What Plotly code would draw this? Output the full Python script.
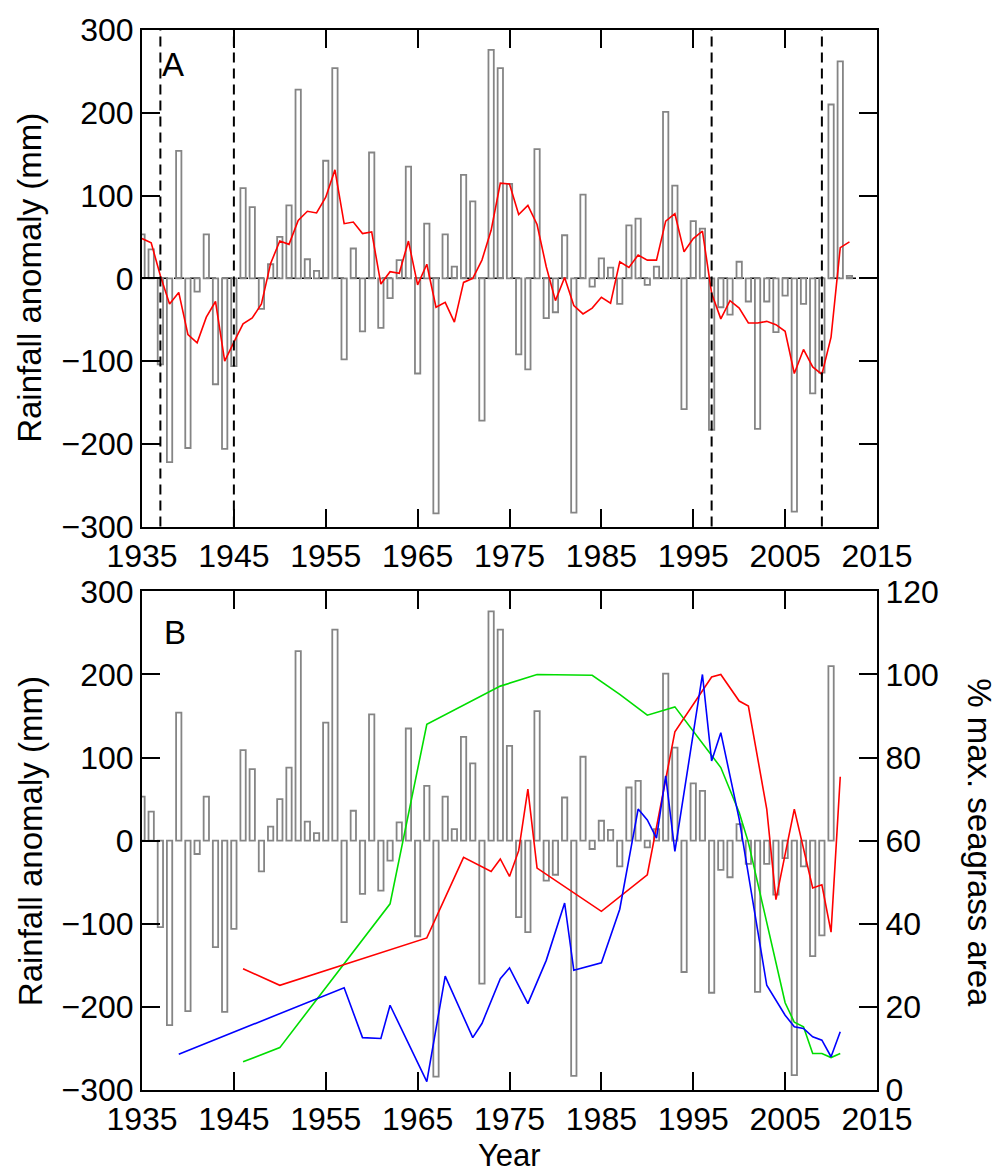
import plotly.graph_objects as go

# ---------------- data ----------------
years = list(range(1935, 2013))
rain_anom = [53, 35, -104, -222, 154, -205, -16, 53, -128, -206,
             -106, 109, 86, -37, 17, 50, 88, 228, 23, 9,
             142, 254, -98, 36, -64, 152, -60, -24, 22, 135,
             -115, 66, -284, 53, 14, 125, 93, -172, 276, 254,
             114, -92, -110, 156, -48, -41, 52, -283, 101, -10,
             24, 13, -31, 64, 72, -8, 14, 201, 112, -158,
             69, 60, -183, -35, -44, 20, -28, -182, -28, -65,
             -21, -282, -31, -139, -114, 210, 262, 3]
rain_ma = [48, 43, 3, -31, -17, -68, -78, -47, -28, -100,
           -77, -55, -48, -31, 18, 45, 41, 70, 81, 79,
           98, 131, 66, 68, 54, 56, -7, 8, 6, 45,
           -8, 17, -35, -29, -53, -5, 0, 22, 58, 115,
           114, 77, 88, 65, 14, -27, 1, -33, -43, -36,
           -23, -30, 20, 13, 28, 22, 22, 69, 78, 32,
           48, 57, -18, -49, -27, -36, -54, -54, -52, -56,
           -64, -115, -86, -107, -116, -71, 37, 44]
drought_years = [1937, 1945, 1997, 2009]

# Panel B: rainfall bars to 2010
years_b = list(range(1935, 2011))
rain_b = rain_anom[:len(years_b)]

red_years = [1946, 1950, 1966, 1970, 1973, 1974, 1975, 1976, 1977, 1978, 1985, 1990,
             1993, 1997, 1998, 2000, 2001, 2003, 2004, 2006, 2008, 2009, 2010, 2011]
red_vals = [29.2, 25.2, 36.6, 56, 52.6, 55.6, 51.4, 57.6, 72.4, 53.4, 43, 51.8,
            86.2, 99.4, 100, 93.6, 92.4, 67.6, 45.8, 67.6, 48.6, 49.4, 38, 75.4]

green_years = [1946, 1950, 1962, 1966, 1974, 1978, 1984, 1987, 1990, 1993, 1998,
               2000, 2001, 2005, 2006, 2007, 2008, 2009, 2010, 2011]
green_vals = [6.8, 10.2, 44.8, 88, 97.2, 100, 99.8, 95.2, 90.2, 92.2, 77.6,
              66.8, 59.6, 21.0, 16.3, 15.2, 8.8, 8.8, 7.8, 8.8]

blue_years = [1939, 1957, 1959, 1961, 1962, 1966, 1968, 1971, 1972, 1974, 1975, 1977,
              1979, 1981, 1982, 1985, 1987, 1989, 1990, 1991, 1992, 1993, 1996, 1997,
              1998, 2000, 2003, 2005, 2006, 2007, 2008, 2009, 2010, 2011]
blue_vals = [8.6, 24.6, 12.6, 12.4, 20.4, 2, 27.4, 12.6, 16, 26.8, 29.4, 20.8,
             31.2, 45, 28.8, 30.6, 43.5, 67.6, 65, 60.6, 75.6, 57.4, 100, 79.2,
             86, 65.2, 25.2, 18, 15.2, 14.8, 12.8, 12, 8, 14]

x_ticks = list(range(1935, 2016, 10))
y_ticks = list(range(-300, 301, 100))
y2_ticks = list(range(0, 121, 20))

# ---------------- figure ----------------
FONT = "Liberation Sans, Arial, sans-serif"
BAR_LINE = "#858585"

fig = go.Figure()

# Panel A
fig.add_trace(go.Bar(x=years, y=rain_anom, width=0.58,
                     marker=dict(color="rgba(255,255,255,0)", line=dict(color=BAR_LINE, width=1.8)),
                     xaxis="x", yaxis="y", showlegend=False))
fig.add_trace(go.Scatter(x=years, y=rain_ma, mode="lines",
                         line=dict(color="#ff0000", width=1.6),
                         xaxis="x", yaxis="y", showlegend=False))

# Panel B
fig.add_trace(go.Bar(x=years_b, y=rain_b, width=0.58,
                     marker=dict(color="rgba(255,255,255,0)", line=dict(color=BAR_LINE, width=1.8)),
                     xaxis="x2", yaxis="y2", showlegend=False))
fig.add_trace(go.Scatter(x=green_years, y=green_vals, mode="lines",
                         line=dict(color="#00dd00", width=1.6),
                         xaxis="x2", yaxis="y3", showlegend=False))
fig.add_trace(go.Scatter(x=red_years, y=red_vals, mode="lines",
                         line=dict(color="#ff0000", width=1.6),
                         xaxis="x2", yaxis="y3", showlegend=False))
fig.add_trace(go.Scatter(x=blue_years, y=blue_vals, mode="lines",
                         line=dict(color="#0000ff", width=1.6),
                         xaxis="x2", yaxis="y3", showlegend=False))

shapes = []
for yr in drought_years:
    shapes.append(dict(type="line", xref="x", yref="y domain", x0=yr, x1=yr, y0=0, y1=1,
                       line=dict(color="black", width=2, dash="10px,6px"), layer="above"))
shapes.append(dict(type="line", xref="x domain", yref="y", x0=0, x1=1, y0=0, y1=0,
                   line=dict(color="black", width=1.5, dash="10px,6px"), layer="below"))

axis_common = dict(showgrid=False, zeroline=False, showline=True, linecolor="black", linewidth=2,
                   ticks="inside", ticklen=18, tickwidth=2, tickcolor="black",
                   tickfont=dict(family=FONT, size=32, color="black"))

dom_a = [0.5315, 1.0]
dom_b = [0.0, 0.4704]

TITLE_FONT = dict(family=FONT, size=33, color="black")

fig.update_layout(
    width=1000, height=1172,
    margin=dict(l=142, r=123, t=25, b=82),
    paper_bgcolor="white", plot_bgcolor="white",
    font=dict(family=FONT, size=32, color="black"),
    barmode="overlay",
    xaxis=dict(domain=[0, 1], anchor="y", range=[1935, 2015], tickvals=x_ticks,
               mirror="ticks", **axis_common),
    yaxis=dict(domain=dom_a, anchor="x", range=[-300, 300], tickvals=y_ticks,
               mirror="ticks", **axis_common),
    xaxis2=dict(domain=[0, 1], anchor="y2", range=[1935, 2015], tickvals=x_ticks,
                mirror="ticks", **axis_common),
    yaxis2=dict(domain=dom_b, anchor="x2", range=[-300, 300], tickvals=y_ticks,
                **axis_common),
    yaxis3=dict(overlaying="y2", anchor="x2", side="right", range=[0, 120], tickvals=y2_ticks,
                **axis_common),
    shapes=shapes,
    annotations=[
        dict(text="A", xref="paper", yref="paper", x=0.0245, y=0.9869, xanchor="left", yanchor="top",
             showarrow=False, font=dict(family=FONT, size=33, color="black")),
        dict(text="B", xref="paper", yref="paper", x=0.0275, y=0.4507, xanchor="left", yanchor="top",
             showarrow=False, font=dict(family=FONT, size=33, color="black")),
        dict(text="Rainfall anomaly (mm)", xref="paper", yref="paper", x=-0.1524, y=0.7662,
             xanchor="center", yanchor="middle", textangle=-90, showarrow=False, font=TITLE_FONT),
        dict(text="Rainfall anomaly (mm)", xref="paper", yref="paper", x=-0.1524, y=0.2347,
             xanchor="center", yanchor="middle", textangle=-90, showarrow=False, font=TITLE_FONT),
        dict(text="% max. seagrass area", xref="paper", yref="paper", x=1.1401, y=0.2329,
             xanchor="center", yanchor="middle", textangle=90, showarrow=False, font=TITLE_FONT),
        dict(text="Year", xref="paper", yref="paper", x=0.5, y=-0.0615,
             xanchor="center", yanchor="middle", showarrow=False, font=dict(family=FONT, size=31, color="black")),
    ],
)

fig.write_html("out.html")
